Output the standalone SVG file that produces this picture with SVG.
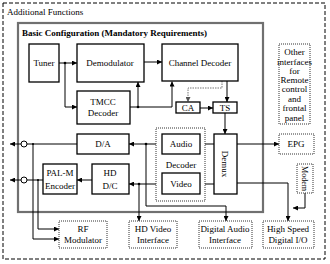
<svg xmlns="http://www.w3.org/2000/svg" width="330" height="264" viewBox="0 0 330 264">
<style>
text{font-family:"Liberation Serif","Times New Roman",serif;font-size:9px;fill:#000;text-anchor:middle}
.b{fill:#fff;stroke:#000;stroke-width:1.3}
.d{fill:#fff;stroke:#333;stroke-width:1;stroke-dasharray:1,1}
.c{fill:none;stroke:#000;stroke-width:1}
.g{fill:none;stroke:#777;stroke-width:1;stroke-dasharray:1.5,1}
.t{font-weight:bold;text-anchor:start}
</style>
<defs>
<marker id="a" markerWidth="5" markerHeight="5" refX="5" refY="2.5" orient="auto" markerUnits="userSpaceOnUse"><path d="M0,0 L5,2.5 L0,5 z" fill="#000"/></marker>
<marker id="ag" markerWidth="5" markerHeight="5" refX="5" refY="2.5" orient="auto" markerUnits="userSpaceOnUse"><path d="M0,0 L5,2.5 L0,5 z" fill="#555"/></marker>
</defs>
<rect width="330" height="264" fill="#fff"/>
<g id="additional">
<rect x="3" y="3" width="322" height="256" fill="none" stroke="#000" stroke-width="1" stroke-dasharray="4,2"/>
<text x="7" y="15" style="text-anchor:start">Additional Functions</text>
</g>
<g id="basic">
<rect x="18" y="23" width="245" height="189" fill="none" stroke="#707070" stroke-width="2.2"/>
<text class="t" x="22" y="36">Basic Configuration (Mandatory Requirements)</text>
</g>
<g id="connectors">
<path class="c" d="M59,63 H77" marker-end="url(#a)"/>
<path class="c" d="M65,63 V107 H77" marker-end="url(#a)"/>
<path class="c" d="M144,62 H162" marker-end="url(#a)"/>
<path class="c" d="M130,107 H172 V81.5" marker-end="url(#a)"/>
<path class="c" d="M138,107 V82" marker-end="url(#a)"/>
<path class="c" d="M227,81 V102" marker-end="url(#a)"/>
<path class="g" d="M222,81 V88 H188 V102" marker-end="url(#ag)"/>
<path class="c" d="M200,108 H213" marker-end="url(#a)"/>
<path class="c" d="M225,113 V134" marker-end="url(#a)"/>
<path class="c" d="M214,144 H200" marker-end="url(#a)"/>
<path class="c" d="M214,184 H200" marker-end="url(#a)"/>
<path class="c" d="M237,144 H279" marker-end="url(#a)"/>
<path class="c" d="M162,144 H129" marker-end="url(#a)"/>
<path class="c" d="M146,144 V206 H226 V221" marker-end="url(#a)"/>
<path class="c" d="M162,184 H129" marker-end="url(#a)"/>
<path class="c" d="M139,184 V221" marker-end="url(#a)"/>
<path class="c" d="M92,180 H77" marker-end="url(#a)"/>
<path class="c" d="M77,144 H27"/>
<path class="c" d="M21,144 H10" marker-end="url(#a)"/>
<path class="c" d="M33,144 V239 H59" marker-end="url(#a)"/>
<path class="c" d="M43,180 H27"/>
<path class="c" d="M21,180 H10" marker-end="url(#a)"/>
<path class="c" d="M38,180 V229 H59" marker-end="url(#a)"/>
<path class="c" d="M237,183 H288 V221" marker-end="url(#a)"/>
<path class="c" d="M305,193 V208 H293" marker-end="url(#a)"/>
<circle cx="24" cy="144" r="3" fill="#fff" stroke="#000" stroke-width="1"/>
<circle cx="24" cy="180" r="3" fill="#fff" stroke="#000" stroke-width="1"/>
<circle cx="65" cy="63" r="1.3"/>
<circle cx="138" cy="107" r="1.3"/>
<circle cx="146" cy="144" r="1.3"/>
<circle cx="139" cy="184" r="1.3"/>
<circle cx="33" cy="144" r="1"/>
<circle cx="38" cy="180" r="1"/>
</g>
<g id="tuner"><rect class="b" x="29" y="44" width="30" height="38"/><text x="44" y="66">Tuner</text></g>
<g id="demodulator"><rect class="b" x="77" y="44" width="67" height="38"/><text x="110" y="66">Demodulator</text></g>
<g id="channel-decoder"><rect class="b" x="162" y="44" width="76" height="37"/><text x="200" y="66">Channel Decoder</text></g>
<g id="tmcc"><rect class="b" x="77" y="91" width="53" height="33"/><text x="103" y="105">TMCC</text><text x="103" y="116">Decoder</text></g>
<g id="ca"><rect class="b" x="176" y="102" width="24" height="11"/><text x="188" y="111">CA</text></g>
<g id="ts"><rect class="b" x="213" y="102" width="24" height="11"/><text x="225" y="111">TS</text></g>
<g id="da"><rect class="b" x="77" y="134" width="52" height="20"/><text x="103" y="147">D/A</text></g>
<g id="decoder"><rect class="d" x="156" y="128" width="49" height="73"/><text x="181" y="168">Decoder</text></g>
<g id="audio"><rect class="b" x="162" y="134" width="38" height="20"/><text x="181" y="147">Audio</text></g>
<g id="video"><rect class="b" x="162" y="173" width="38" height="21"/><text x="181" y="187">Video</text></g>
<g id="demux"><rect class="b" x="214" y="134" width="23" height="60"/><text transform="translate(225,164) rotate(90)" y="3">Demux</text></g>
<g id="palm"><rect class="b" x="43" y="164" width="34" height="30"/><text x="60" y="176">PAL-M</text><text x="60" y="189">Encoder</text></g>
<g id="hddc"><rect class="b" x="92" y="164" width="37" height="30"/><text x="110" y="176">HD</text><text x="110" y="189">D/C</text></g>
<g id="other"><rect class="d" x="279" y="44" width="31" height="80"/>
<text x="294.5" y="55">Other</text><text x="294.5" y="65">interfaces</text><text x="294.5" y="74">for</text><text x="294.5" y="83">Remote</text><text x="294.5" y="92">control</text><text x="294.5" y="102">and</text><text x="294.5" y="111">frontal</text><text x="294.5" y="121">panel</text></g>
<g id="epg"><rect class="d" x="279" y="134" width="35" height="20"/><text x="296" y="147">EPG</text></g>
<g id="modem"><rect class="d" x="297" y="164" width="16" height="29"/><text transform="translate(305,178.5) rotate(90)" y="3" style="font-size:8px">Modem</text></g>
<g id="rf"><rect class="d" x="59" y="221" width="48" height="27"/><text x="83" y="232">RF</text><text x="83" y="243">Modulator</text></g>
<g id="hdvideo"><rect class="d" x="129" y="221" width="48" height="27"/><text x="153" y="232">HD Video</text><text x="153" y="243">Interface</text></g>
<g id="digaudio"><rect class="d" x="199" y="221" width="53" height="27"/><text x="225" y="232">Digital Audio</text><text x="225" y="243">Interface</text></g>
<g id="hsdio"><rect class="d" x="263" y="221" width="51" height="27"/><text x="288" y="232">High Speed</text><text x="288" y="243">Digital I/O</text></g>
</svg>
